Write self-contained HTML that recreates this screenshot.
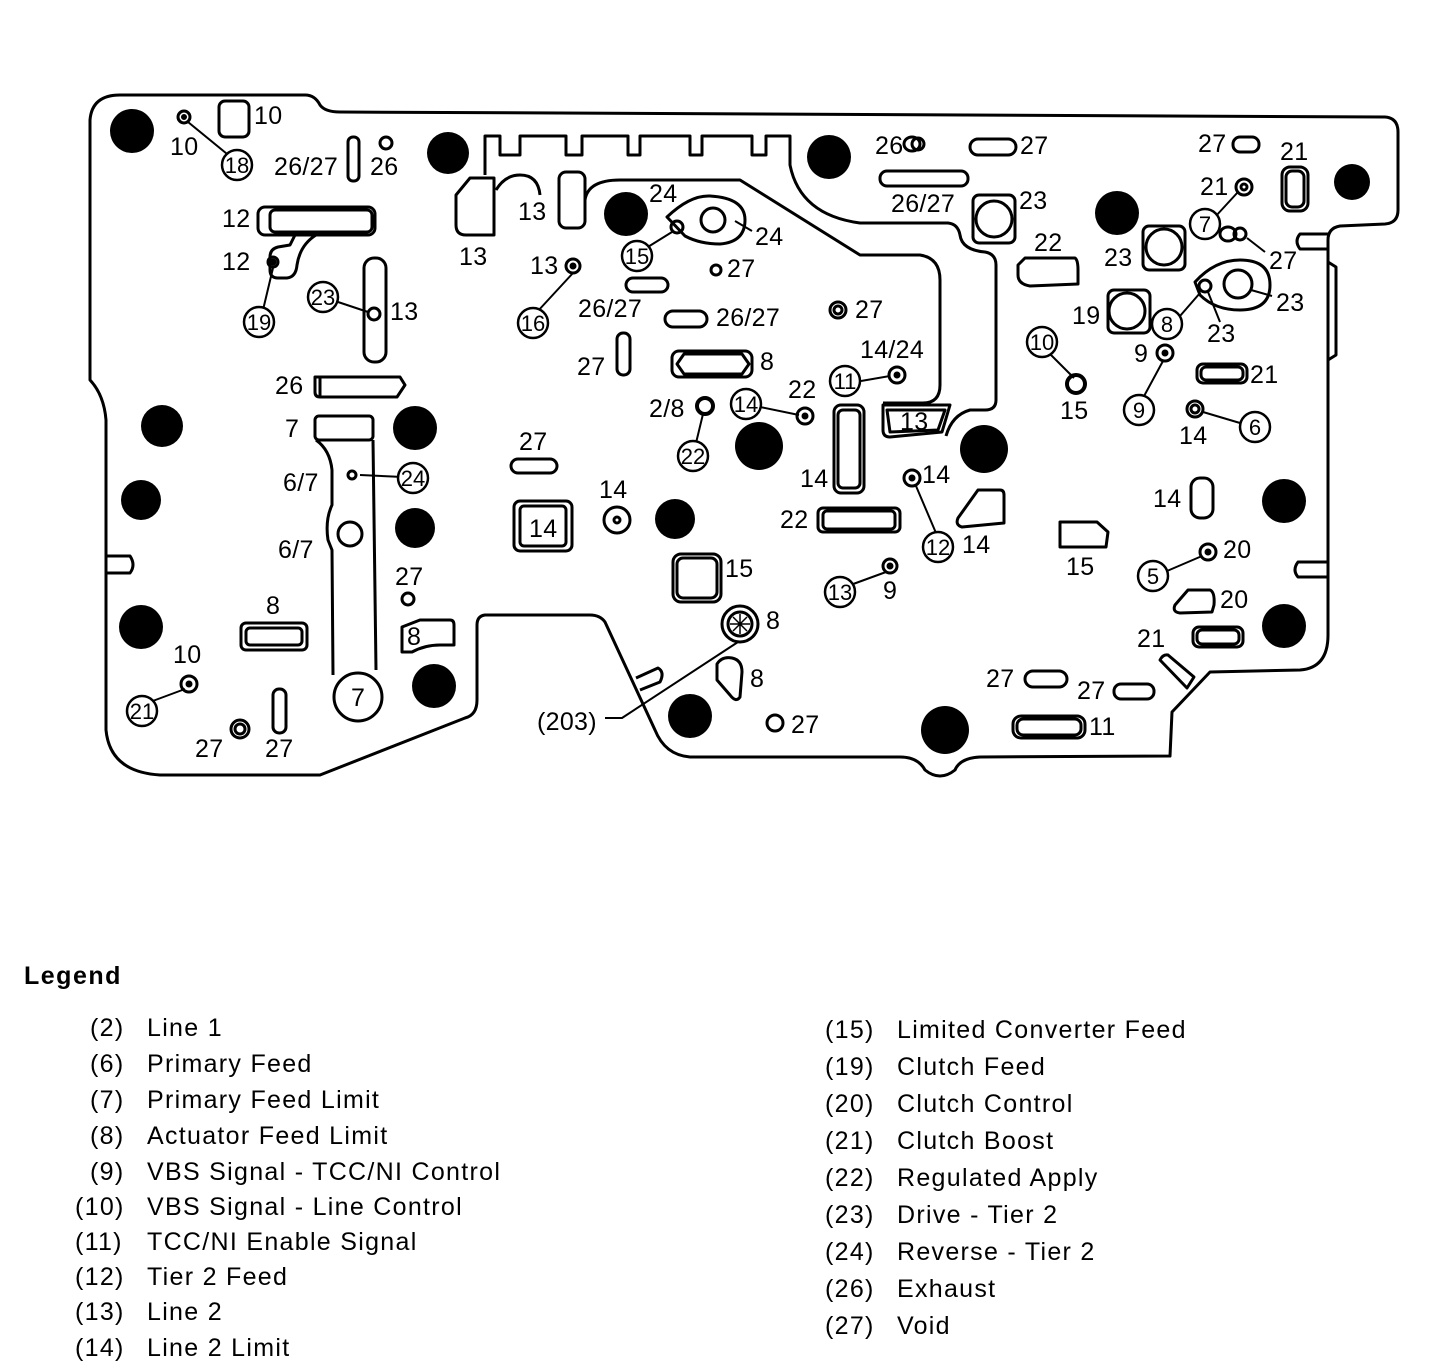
<!DOCTYPE html>
<html><head><meta charset="utf-8"><style>
html,body{margin:0;padding:0;background:#fff;}
svg{display:block;}
text{font-family:"Liberation Sans",sans-serif;fill:#000;}
.l{font-size:25px;letter-spacing:0.3px;}
.c{font-size:22px;text-anchor:middle;}
.g{font-size:25px;letter-spacing:1.3px;}
</style></head><body>
<svg width="1456" height="1368" viewBox="0 0 1456 1368" xmlns="http://www.w3.org/2000/svg">
<g fill="none" stroke="#000" stroke-width="3" stroke-linejoin="round">
<path d="M120,95 L305,95 Q315,95 320,105 Q325,112 340,112 L1385,117 Q1398,118 1398,132 L1398,210 Q1398,223 1385,224 L1340,226 Q1328,228 1328,240 L1328,635 Q1328,668 1300,670 L1210,672 L1172,712 L1170,756 L980,757 Q960,758 955,770 Q940,782 925,770 Q918,757 900,757 L690,757 Q665,755 655,730 L605,622 Q600,615 590,615 L485,615 Q477,616 477,625 L477,700 Q477,715 465,718 L320,775 L160,775 Q110,772 106,730 L106,420 Q104,395 90,380 L90,120 Q92,95 120,95 Z"/>
<path d="M1328,234 L1300,234 Q1294,241 1300,249 L1328,249"/>
<path d="M1328,562 L1298,562 Q1292,570 1298,577 L1328,577"/>
<path d="M1328,262 L1336,267 L1336,355 L1328,360"/>
<path d="M106,556 L130,556 Q136,565 130,573 L106,573"/>
<path d="M485,175 L485,136 L500,136 L500,155 L520,155 L520,136 L566,136 L566,155 L582,155 L582,136 L628,136 L628,155 L640,155 L640,136 L690,136 L690,155 L702,155 L702,136 L752,136 L752,155 L766,155 L766,136 L790,136 L790,165 Q800,215 860,223 L948,223 Q958,224 960,235 Q962,250 985,252 Q996,254 996,265 L996,400 Q996,410 985,410 L970,410 Q952,415 946,436"/>
<path d="M585,200 Q588,180 620,180 L740,180 L860,255 L920,255 Q940,258 940,280 L940,385 Q940,403 923,403 L883,403"/>
<path d="M496,190 Q505,175 520,175 Q538,175 540,195"/>
<path d="M456,195 L470,178 L494,178 L494,235 L466,235 Q456,235 456,225 Z"/>
<rect x="559" y="172" width="26" height="56" rx="7"/>
<rect x="219" y="101" width="30" height="36" rx="6"/>
<circle cx="184" cy="117" r="6"/><circle cx="184" cy="117" r="1.5" fill="#000"/>
<rect x="348" y="137" width="11" height="44" rx="5"/>
<circle cx="386" cy="143" r="6"/>
<rect x="258" y="207" width="117" height="28" rx="7"/>
<rect x="270" y="210" width="102" height="22" rx="5"/>
<path d="M295,235 L290,245 L278,247 Q270,249 270,257 L270,270 Q270,278 278,278 L287,278 Q296,277 297,265 Q300,245 316,235"/>
<circle cx="273" cy="262" r="5"/><circle cx="273" cy="262" r="2" fill="#000"/>
<rect x="364" y="258" width="22" height="104" rx="10"/>
<circle cx="374" cy="314" r="6"/>
<path d="M315,377 L400,377 L405,385 L397,397 L320,397 Q315,397 315,392 Z"/>
<path d="M320,377 L320,397"/>
<rect x="315" y="416" width="58" height="24" rx="4"/>
<path d="M316,440 Q330,450 332,470 L332,505 Q325,520 328,540 L332,550 L333,675"/>
<path d="M373,440 L376,670"/>
<circle cx="358" cy="697" r="24" fill="#fff"/>
<circle cx="350" cy="534" r="12"/>
<circle cx="352" cy="475" r="4"/>
<rect x="241" y="623" width="66" height="27" rx="5"/>
<rect x="246" y="628" width="56" height="17" rx="4"/>
<circle cx="408" cy="599" r="6"/>
<path d="M402,627 L420,620 L450,620 Q454,620 454,625 L454,645 L440,645 Q425,645 412,652 L402,652 Z"/>
<rect x="273" y="689" width="13" height="44" rx="6"/>
<circle cx="240" cy="729" r="9"/><circle cx="240" cy="729" r="5"/>
<circle cx="189" cy="684" r="8"/><circle cx="189" cy="684" r="2" fill="#000"/>
<circle cx="573" cy="266" r="7"/><circle cx="573" cy="266" r="2" fill="#000"/>
<path d="M667,217 Q690,195 710,196 Q745,198 745,220 Q745,242 720,244 Q700,244 685,236 Z"/>
<circle cx="677" cy="227" r="6"/><circle cx="713" cy="220" r="12"/>
<rect x="626" y="278" width="42" height="14" rx="7"/>
<circle cx="716" cy="270" r="5"/>
<rect x="665" y="311" width="42" height="16" rx="8"/>
<rect x="617" y="333" width="13" height="42" rx="6"/>
<rect x="672" y="351" width="80" height="26" rx="7"/>
<path d="M684,354 L742,354 L749,364 L742,374 L684,374 L677,364 Z"/>
<circle cx="838" cy="310" r="8"/><circle cx="838" cy="310" r="4"/>
<circle cx="897" cy="375" r="8"/><circle cx="897" cy="375" r="2" fill="#000"/>
<circle cx="705" cy="406" r="8" stroke-width="4"/>
<circle cx="805" cy="416" r="8"/><circle cx="805" cy="416" r="2" fill="#000"/>
<rect x="834" y="405" width="30" height="88" rx="7"/>
<rect x="838" y="410" width="22" height="78" rx="5"/>
<path d="M883,405 L950,405 L942,432 L890,437 Q883,437 883,430 Z"/>
<path d="M887,410 L945,410 L938,430 L890,432 Z"/>
<rect x="511" y="459" width="46" height="14" rx="7"/>
<rect x="514" y="501" width="58" height="50" rx="6"/>
<rect x="520" y="506" width="46" height="40" rx="4"/>
<circle cx="617" cy="520" r="13"/><circle cx="617" cy="520" r="3"/>
<rect x="673" y="554" width="48" height="48" rx="8"/>
<rect x="677" y="558" width="40" height="40" rx="6"/>
<circle cx="740" cy="624" r="18"/><circle cx="740" cy="624" r="12"/>
<path d="M733,617 L747,631 M747,617 L733,631 M740,614 L740,634 M730,624 L750,624" stroke-width="1.5"/>
<path d="M636,678 L658,668 Q665,672 660,682 L640,690"/>
<path d="M717,664 Q722,656 732,658 Q742,660 742,672 L740,697 Q736,703 730,695 L717,680 Z"/>
<circle cx="775" cy="723" r="8" stroke-width="3"/>
<rect x="818" y="508" width="82" height="24" rx="5"/>
<rect x="823" y="511" width="72" height="18" rx="4"/>
<circle cx="912" cy="478" r="8"/><circle cx="912" cy="478" r="2" fill="#000"/>
<circle cx="890" cy="566" r="7"/><circle cx="890" cy="566" r="2" fill="#000"/>
<path d="M958,518 L978,490 L1000,490 Q1004,490 1004,495 L1004,523 L962,527 Q955,525 958,518 Z"/>
<path d="M1060,522 L1097,522 L1108,532 L1106,547 L1060,547 Z"/>
<path d="M912,144 m-8,0 a8,7 0 1,0 16,0 a8,7 0 1,0 -16,0"/><circle cx="918" cy="144" r="6"/>
<rect x="970" y="139" width="46" height="16" rx="8"/>
<rect x="880" y="171" width="88" height="15" rx="7"/>
<rect x="973" y="195" width="42" height="48" rx="6"/><circle cx="994" cy="219" r="18"/>
<path d="M1018,265 L1025,258 L1075,258 Q1078,260 1078,270 L1078,284 L1030,286 Q1018,284 1018,275 Z"/>
<rect x="1233" y="137" width="26" height="15" rx="7"/>
<rect x="1282" y="167" width="26" height="44" rx="8"/>
<rect x="1286" y="171" width="18" height="36" rx="6"/>
<circle cx="1244" cy="187" r="8"/><circle cx="1244" cy="187" r="3"/>
<rect x="1143" y="226" width="42" height="44" rx="6"/><circle cx="1164" cy="247" r="18"/>
<path d="M1228,234 m-8,0 a8,7 0 1,0 16,0 a8,7 0 1,0 -16,0"/><circle cx="1240" cy="234" r="6"/>
<rect x="1108" y="290" width="42" height="43" rx="6"/><circle cx="1127" cy="311" r="18"/>
<path d="M1195,282 Q1215,260 1240,260 Q1270,260 1270,285 Q1270,310 1240,310 Q1215,310 1200,295 Z"/>
<circle cx="1205" cy="286" r="6"/><circle cx="1238" cy="284" r="14"/>
<circle cx="1165" cy="353" r="8"/><circle cx="1165" cy="353" r="2" fill="#000"/>
<rect x="1197" y="364" width="50" height="19" rx="6"/>
<rect x="1201" y="367" width="42" height="13" rx="5"/>
<circle cx="1076" cy="384" r="9" stroke-width="4"/>
<circle cx="1195" cy="409" r="8"/><circle cx="1195" cy="409" r="4"/>
<rect x="1191" y="478" width="22" height="40" rx="9"/>
<circle cx="1208" cy="552" r="8"/><circle cx="1208" cy="552" r="2" fill="#000"/>
<path d="M1175,605 L1188,590 L1210,590 Q1215,592 1214,605 L1212,612 L1180,613 Q1172,612 1175,605 Z"/>
<rect x="1193" y="627" width="50" height="20" rx="6"/>
<rect x="1197" y="630" width="42" height="14" rx="5"/>
<path d="M1160,660 Q1163,654 1168,655 L1194,677 L1187,688 Z"/>
<rect x="1025" y="671" width="42" height="16" rx="8"/>
<rect x="1114" y="684" width="40" height="15" rx="7"/>
<rect x="1013" y="716" width="72" height="22" rx="8"/>
<rect x="1017" y="719" width="64" height="16" rx="6"/>
<path stroke-width="2" d="M188,122 L232,158 M273,268 L263,310 M338,302 L368,312 M573,273 L537,312 M672,232 L643,250 M360,475 L403,477 M703,414 L696,443 M760,407 L799,415 M861,381 L890,376 M916,486 L936,533 M886,572 L845,587 M738,642 L622,718 L605,718 M1074,378 L1046,350 M1200,293 L1180,316 M1208,292 L1220,322 M1251,290 L1272,296 M1238,192 L1215,217 M1247,238 L1265,252 M1163,361 L1143,398 M1203,412 L1240,423 M1202,556 L1167,571 M735,221 L752,231 M185,689 L150,702"/>
</g>
<g fill="#000">
<circle cx="132" cy="131" r="22"/><circle cx="448" cy="153" r="21"/><circle cx="829" cy="157" r="22"/><circle cx="1352" cy="182" r="18"/>
<circle cx="626" cy="214" r="22"/><circle cx="1117" cy="213" r="22"/><circle cx="162" cy="426" r="21"/><circle cx="415" cy="428" r="22"/>
<circle cx="141" cy="500" r="20"/><circle cx="415" cy="528" r="20"/><circle cx="759" cy="446" r="24"/><circle cx="984" cy="449" r="24"/>
<circle cx="675" cy="519" r="20"/><circle cx="1284" cy="501" r="22"/><circle cx="141" cy="627" r="22"/><circle cx="1284" cy="626" r="22"/>
<circle cx="434" cy="686" r="22"/><circle cx="690" cy="716" r="22"/><circle cx="945" cy="730" r="24"/>
</g>
<g fill="#fff" stroke="#000" stroke-width="2.5">
<circle cx="237" cy="165" r="15"/><circle cx="259" cy="322" r="15"/><circle cx="323" cy="297" r="15"/><circle cx="533" cy="323" r="15"/>
<circle cx="637" cy="256" r="15"/><circle cx="413" cy="478" r="15"/><circle cx="693" cy="456" r="15"/><circle cx="746" cy="404" r="15"/>
<circle cx="845" cy="381" r="15"/><circle cx="938" cy="547" r="15"/><circle cx="840" cy="592" r="15"/><circle cx="142" cy="711" r="15"/>
<circle cx="1042" cy="342" r="15"/><circle cx="1205" cy="224" r="15"/><circle cx="1167" cy="324" r="15"/><circle cx="1139" cy="410" r="15"/>
<circle cx="1255" cy="427" r="15"/><circle cx="1153" cy="576" r="15"/>
</g>
<g class="c">
<text x="237" y="173">18</text><text x="259" y="330">19</text><text x="323" y="305">23</text><text x="533" y="331">16</text>
<text x="637" y="264">15</text><text x="413" y="486">24</text><text x="693" y="464">22</text><text x="746" y="412">14</text>
<text x="845" y="389">11</text><text x="938" y="555">12</text><text x="840" y="600">13</text><text x="142" y="719">21</text>
<text x="1042" y="350">10</text><text x="1205" y="232">7</text><text x="1167" y="332">8</text><text x="1139" y="418">9</text>
<text x="1255" y="435">6</text><text x="1153" y="584">5</text>
<text x="358" y="706" style="font-size:25px">7</text>
</g>
<g class="l">
<text x="254" y="124">10</text><text x="170" y="155">10</text><text x="274" y="175">26/27</text><text x="370" y="175">26</text>
<text x="222" y="227">12</text><text x="222" y="270">12</text><text x="390" y="320">13</text><text x="275" y="394">26</text>
<text x="285" y="437">7</text><text x="283" y="491">6/7</text><text x="278" y="558">6/7</text><text x="395" y="585">27</text>
<text x="266" y="614">8</text><text x="407" y="645">8</text><text x="173" y="663">10</text><text x="195" y="757">27</text><text x="265" y="757">27</text>
<text x="459" y="265">13</text><text x="518" y="220">13</text><text x="530" y="274">13</text>
<text x="649" y="202">24</text><text x="755" y="245">24</text><text x="727" y="277">27</text>
<text x="578" y="317">26/27</text><text x="716" y="326">26/27</text><text x="577" y="375">27</text><text x="760" y="370">8</text>
<text x="855" y="318">27</text><text x="860" y="358">14/24</text><text x="649" y="417">2/8</text><text x="788" y="398">22</text>
<text x="519" y="450">27</text><text x="599" y="498">14</text><text x="800" y="487">14</text><text x="922" y="483">14</text>
<text x="780" y="528">22</text><text x="725" y="577">15</text><text x="962" y="553">14</text><text x="883" y="599">9</text>
<text x="766" y="629">8</text><text x="750" y="687">8</text><text x="537" y="730">(203)</text><text x="791" y="733">27</text>
<text x="875" y="154">26</text><text x="1020" y="154">27</text><text x="891" y="212">26/27</text><text x="1019" y="209">23</text>
<text x="1034" y="251">22</text><text x="1198" y="152">27</text><text x="1280" y="160">21</text><text x="1200" y="195">21</text>
<text x="1104" y="266">23</text><text x="1269" y="269">27</text><text x="1072" y="324">19</text><text x="1276" y="311">23</text>
<text x="1207" y="342">23</text><text x="1134" y="362">9</text><text x="1250" y="383">21</text><text x="1060" y="419">15</text>
<text x="1179" y="444">14</text><text x="1153" y="507">14</text><text x="1223" y="558">20</text><text x="1066" y="575">15</text>
<text x="1220" y="608">20</text><text x="1137" y="647">21</text><text x="986" y="687">27</text><text x="1077" y="699">27</text>
<text x="1089" y="735">11</text>
<text x="529" y="537">14</text><text x="900" y="430">13</text>
</g>
<text x="24" y="984" style="font-size:25px;font-weight:bold;letter-spacing:1.5px">Legend</text>
<g class="g">
<text x="90" y="1036">(2)</text><text x="147" y="1036">Line 1</text>
<text x="90" y="1072">(6)</text><text x="147" y="1072">Primary Feed</text>
<text x="90" y="1108">(7)</text><text x="147" y="1108">Primary Feed Limit</text>
<text x="90" y="1144">(8)</text><text x="147" y="1144">Actuator Feed Limit</text>
<text x="90" y="1180">(9)</text><text x="147" y="1180">VBS Signal - TCC/NI Control</text>
<text x="75" y="1215">(10)</text><text x="147" y="1215">VBS Signal - Line Control</text>
<text x="75" y="1250">(11)</text><text x="147" y="1250">TCC/NI Enable Signal</text>
<text x="75" y="1285">(12)</text><text x="147" y="1285">Tier 2 Feed</text>
<text x="75" y="1320">(13)</text><text x="147" y="1320">Line 2</text>
<text x="75" y="1356">(14)</text><text x="147" y="1356">Line 2 Limit</text>
<text x="825" y="1038">(15)</text><text x="897" y="1038">Limited Converter Feed</text>
<text x="825" y="1075">(19)</text><text x="897" y="1075">Clutch Feed</text>
<text x="825" y="1112">(20)</text><text x="897" y="1112">Clutch Control</text>
<text x="825" y="1149">(21)</text><text x="897" y="1149">Clutch Boost</text>
<text x="825" y="1186">(22)</text><text x="897" y="1186">Regulated Apply</text>
<text x="825" y="1223">(23)</text><text x="897" y="1223">Drive - Tier 2</text>
<text x="825" y="1260">(24)</text><text x="897" y="1260">Reverse - Tier 2</text>
<text x="825" y="1297">(26)</text><text x="897" y="1297">Exhaust</text>
<text x="825" y="1334">(27)</text><text x="897" y="1334">Void</text>
</g>
</svg>
</body></html>
